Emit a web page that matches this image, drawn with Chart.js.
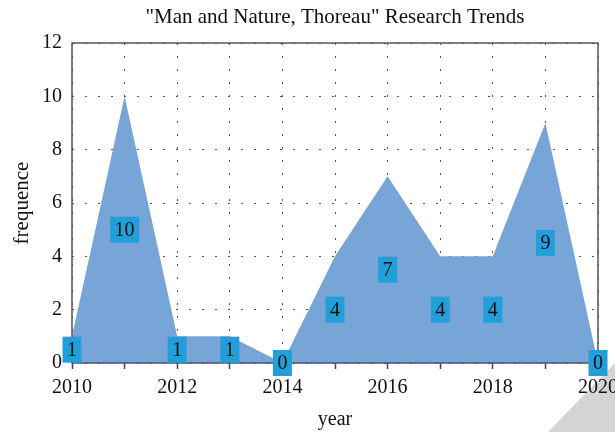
<!DOCTYPE html>
<html>
<head>
<meta charset="utf-8">
<script src="https://cdn.jsdelivr.net/npm/chart.js@4.4.1/dist/chart.umd.min.js"></script>
<style>
  body { margin: 0; background: #fff; }
  #wrap { width: 615px; height: 432px; }
</style>
</head>
<body>
<div id="wrap"><canvas id="trendChart" width="615" height="432"></canvas></div>
<script>
const years = ['2010', '2011', '2012', '2013', '2014', '2015', '2016', '2017', '2018', '2019', '2020'];
const frequence = [1, 10, 1, 1, 0, 4, 7, 4, 4, 9, 0];
const xTickLabels = ['2010', '2012', '2014', '2016', '2018', '2020'];
const yTickValues = [0, 2, 4, 6, 8, 10, 12];
const chartTitle = '"Man and Nature, Thoreau" Research Trends';

const serif = '"Liberation Serif", "Times New Roman", serif';

// light grey corner in the lower right
const cornerShade = {
  id: 'cornerShade',
  beforeDraw(chart) {
    const c = chart.ctx;
    c.save();
    c.fillStyle = '#d4d4d4';
    c.beginPath();
    c.moveTo(548, 432);
    c.lineTo(615, 363);
    c.lineTo(615, 432);
    c.closePath();
    c.fill();
    c.restore();
  }
};

// box frame, the value boxes (at half height of each point), and the title over the plot
const frameAndLabels = {
  id: 'frameAndLabels',
  afterDatasetsDraw(chart) {
    const c = chart.ctx;
    const a = chart.chartArea;
    c.save();
    c.strokeStyle = '#555';
    c.lineWidth = 1.5;
    c.strokeRect(a.left, a.top, a.right - a.left, a.bottom - a.top);

    const meta = chart.getDatasetMeta(0);
    const yScale = chart.scales.y;
    c.font = '20px ' + serif;
    c.textAlign = 'center';
    c.textBaseline = 'middle';
    meta.data.forEach((pt, i) => {
      const v = frequence[i];
      const y = yScale.getPixelForValue(v / 2);
      const txt = String(v);
      const w = c.measureText(txt).width + 9;
      const h = 26;
      c.fillStyle = '#229fd9';
      c.fillRect(pt.x - w / 2, y - h / 2, w, h);
      c.fillStyle = '#111';
      c.fillText(txt, pt.x, y + 1);
    });

    c.font = '21px ' + serif;
    c.fillText(chartTitle, (a.left + a.right) / 2, 17);
    c.restore();
  }
};

const ctx = document.getElementById('trendChart').getContext('2d');
const trendChart = new Chart(ctx, {
  type: 'line',
  data: {
    labels: years,
    datasets: [{
      label: 'frequence',
      data: frequence,
      fill: 'origin',
      backgroundColor: '#77a5d8',
      borderWidth: 0,
      pointRadius: 0,
      tension: 0
    }]
  },
  options: {
    responsive: false,
    animation: false,
    layout: { padding: { left: 6, right: 17, top: 43, bottom: 0 } },
    plugins: {
      legend: { display: false },
      tooltip: { enabled: false },
      title: { display: false }
    },
    scales: {
      x: {
        offset: false,
        afterFit(s) { s.height = 69; s.paddingLeft = 0; s.paddingRight = 0; },
        grid: {
          color: '#555',
          lineWidth: 1,
          drawTicks: true,
          tickLength: 6,
          tickColor: '#444',
          tickWidth: 1.5
        },
        border: { display: false, dash: [2, 11] },
        ticks: {
          autoSkip: false,
          maxRotation: 0,
          padding: 7,
          color: '#111',
          font: { family: serif, size: 20 },
          callback: (v, i) => xTickLabels.includes(years[i]) ? years[i] : ''
        },
        title: {
          display: true,
          text: 'year',
          color: '#111',
          font: { family: serif, size: 20 },
          padding: { top: 4, bottom: 0 }
        }
      },
      y: {
        min: 0,
        max: 12,
        afterFit(s) { s.width = 66; },
        afterBuildTicks(s) { s.ticks = yTickValues.map(v => ({ value: v })); },
        grid: { color: '#555', lineWidth: 1, drawTicks: false },
        border: { display: false, dash: [2, 11] },
        ticks: {
          padding: 10,
          color: '#111',
          font: { family: serif, size: 20 }
        },
        title: {
          display: true,
          text: 'frequence',
          color: '#111',
          font: { family: serif, size: 21 },
          padding: { top: 4, bottom: 4 }
        }
      }
    }
  },
  plugins: [cornerShade, frameAndLabels]
});
</script>
</body>
</html>
